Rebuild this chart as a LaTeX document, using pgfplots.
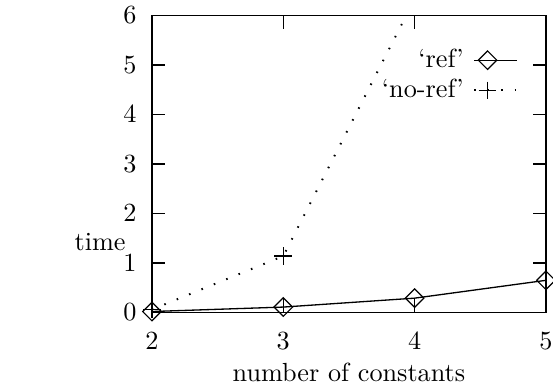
\documentclass[border=0pt]{standalone}
\usepackage{pgfplots}
\pgfplotsset{compat=1.18}
\pgfplotsset{
  refimg/.style={legend image code/.code={\draw[##1, mark indices={2}] plot coordinates {(0pt,0pt) (5pt,0pt) (16.4pt,0pt)};}},
  norefimg/.style={legend image code/.code={\draw[##1, mark indices={2}] plot coordinates {(0pt,0pt) (5pt,0pt) (16.4pt,0pt)};}}}
\begin{document}
\begin{tikzpicture}
\begin{axis}[
  name=ax,
  scale only axis, width=150.4pt, height=113.4pt,
  xmin=2, xmax=5, ymin=0, ymax=6,
  xtick={2,3,4,5}, ytick={0,1,2,3,4,5,6},
  tick align=inside, major tick length=5pt,
  xtick pos=both, ytick pos=both,
  xticklabel pos=lower, yticklabel pos=left,
  axis line style={line width=0.55pt, black},
  tick style={line width=0.55pt, black},
  xticklabel style={yshift=-4pt},
  yticklabel style={xshift=-2.4pt},
  xlabel={number of constants},
  every axis x label/.style={at={(axis description cs:0.5,0)}, anchor=center, yshift=-22.7pt},
  ylabel={time},
  every axis y label/.style={at={(axis description cs:0,0.237)}, anchor=center, xshift=-19.8pt},
  legend plot pos=right,
  legend cell align=right,
  legend style={draw=none, fill=none, at={(axis description cs:1,1)}, anchor=north east,
    xshift=-10.3pt, yshift=-12.6pt, inner sep=0pt, row sep=3pt, column sep=3.8pt,
    nodes={inner sep=0pt}},
]
\addplot[black, line width=0.5pt, mark=square, mark size=2.5pt,
  mark options={rotate=45, solid, line width=0.45pt}, refimg]
  coordinates {(2,0.02) (3,0.11) (4,0.29) (5,0.65)};
\addlegendentry{`ref'}
\addplot[black, line width=0.75pt, dash pattern=on 0.6pt off 4.5pt, mark=+, mark size=3.4pt,
  mark indices={1,2}, mark options={solid, line width=0.45pt}, norefimg]
  coordinates {(2,0.06) (3,1.14) (4,6.33)};
\addlegendentry{`no-ref'}
\end{axis}
\pgfresetboundingbox
\path ([shift={(-58pt,-29.7pt)}]ax.south west) rectangle ([shift={(2.7pt,5.9pt)}]ax.north east);
\end{tikzpicture}
\end{document}
